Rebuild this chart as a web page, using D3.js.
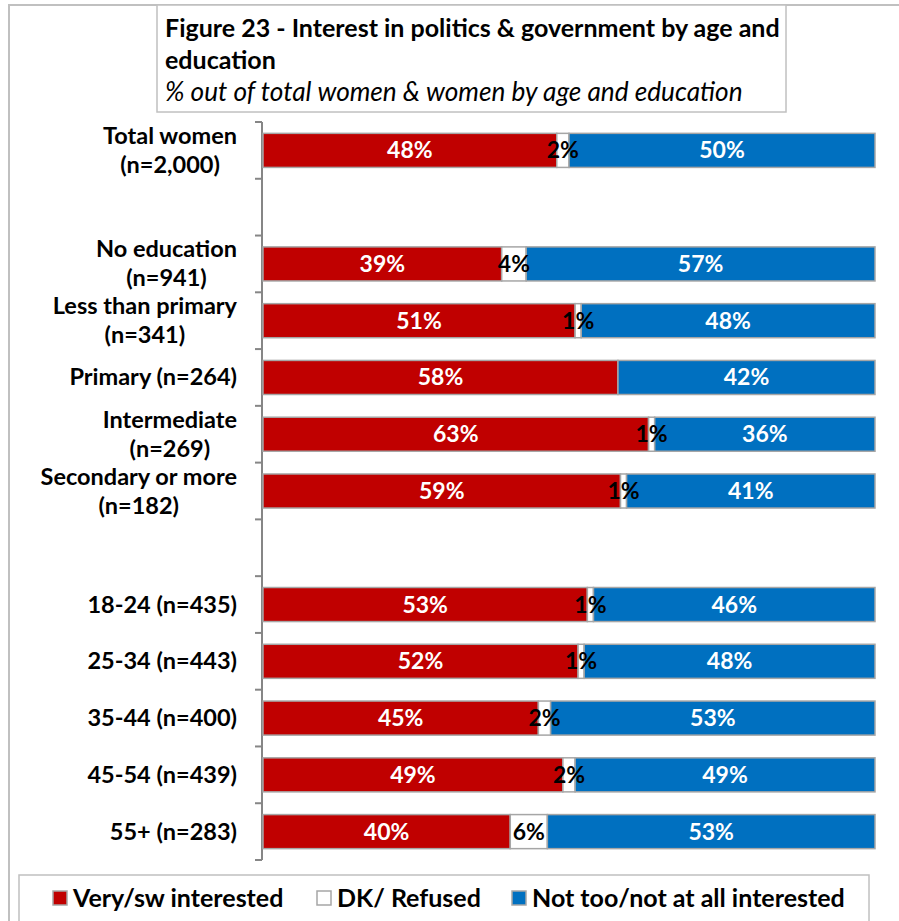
<!DOCTYPE html>
<html>
<head>
<meta charset="utf-8">
<script src="https://cdn.jsdelivr.net/npm/d3@7"></script>
<style>
  html, body { margin: 0; padding: 0; background: #fff; }
  svg { display: block; font-family: Lato, "Open Sans", sans-serif; }
</style>
</head>
<body>
<svg id="chart" width="899" height="921"></svg>
<script>
// ---- data ----
const categories = [
  "Total women\n(n=2,000)",
  "",
  "No education\n(n=941)",
  "Less than primary\n(n=341)",
  "Primary (n=264)",
  "Intermediate\n(n=269)",
  "Secondary or more\n(n=182)",
  " ",
  "18-24 (n=435)",
  "25-34 (n=443)",
  "35-44 (n=400)",
  "45-54 (n=439)",
  "55+ (n=283)"
];
const veryInterested = [48, null, 39, 51, 58, 63, 59, null, 53, 52, 45, 49, 40];
const dkRefused      = [2,  null, 4,  1,  0,  1,  1,  null, 1,  1,  2,  2,  6];
const notInterested  = [50, null, 57, 48, 42, 36, 41, null, 46, 48, 53, 49, 53];
const seriesNames  = ["Very/sw interested", "DK/ Refused", "Not too/not at all interested"];
const seriesColors = ["#C00000", "#FFFFFF", "#0070C0"];
const labelColors  = ["#FFFFFF", "#000000", "#FFFFFF"];
const titleLines = ["Figure 23 - Interest in politics & government by age and", "education"];
const subtitle = "% out of total women & women by age and education";

// ---- layout ----
const svg = d3.select("#chart");
const plot = { left: 263, right: 875, top: 122, bottom: 860 };

// outer frame
svg.append("rect").attr("x", 9).attr("y", 5).attr("width", 920).attr("height", 960)
  .attr("fill", "none").attr("stroke", "#c0c0c0").attr("stroke-width", 2);

// title box
svg.append("rect").attr("x", 157).attr("y", 5).attr("width", 629).attr("height", 107)
  .attr("fill", "#fff").attr("stroke", "#c0c0c0").attr("stroke-width", 1.5);
const tt = svg.append("text").attr("x", 165).attr("font-size", 25).attr("font-weight", "bold").attr("fill", "#000");
titleLines.forEach((t, i) => tt.append("tspan").attr("x", 165).attr("y", 37 + i * 32).text(t));
svg.append("text").attr("x", 165).attr("y", 101).attr("font-size", 26.2).attr("font-style", "italic")
  .attr("fill", "#000").text(subtitle);

// scales (100% stacked: each row normalised to its own total)
const x = d3.scaleLinear().domain([0, 100]).range([plot.left, plot.right]);
const y = d3.scaleBand().domain(categories).range([plot.top, plot.bottom]).paddingInner(0.4).paddingOuter(0.2);

// axis line + ticks at band boundaries
const bounds = d3.range(categories.length + 1).map(i => plot.top + i * (plot.bottom - plot.top) / categories.length);
const ax = svg.append("g");
ax.append("line").attr("x1", plot.left - 1).attr("x2", plot.left - 1)
  .attr("y1", plot.top).attr("y2", plot.bottom).attr("stroke", "#868686").attr("stroke-width", 2);
ax.selectAll("line.tick").data(bounds).join("line").attr("class", "tick")
  .attr("x1", plot.left - 8).attr("x2", plot.left - 1)
  .attr("y1", d => d).attr("y2", d => d).attr("stroke", "#868686").attr("stroke-width", 2);

// stacked data
const rows = categories.map((c, i) => ({ cat: c, vals: [veryInterested[i], dkRefused[i], notInterested[i]] }))
  .filter(r => r.vals[0] !== null);

const bh = y.bandwidth();

rows.forEach(r => {
  const total = d3.sum(r.vals);
  let acc = 0;
  r.vals.forEach((v, k) => {
    const x0 = x(acc / total * 100), x1 = x((acc + v) / total * 100);
    svg.append("rect").attr("x", x0).attr("y", y(r.cat)).attr("width", Math.max(0, x1 - x0)).attr("height", bh)
      .attr("fill", seriesColors[k]).attr("stroke", "#A6A6A6").attr("stroke-width", 1.5);
    acc += v;
  });
});
rows.forEach(r => {
  const total = d3.sum(r.vals);
  let acc = 0;
  r.vals.forEach((v, k) => {
    if (v > 0) {
      svg.append("text").attr("x", x((acc + v / 2) / total * 100)).attr("y", y(r.cat) + bh / 2 + 8)
        .attr("text-anchor", "middle").attr("font-size", 23).attr("font-weight", "bold")
        .attr("fill", labelColors[k]).text(v + "%");
    }
    acc += v;
  });
});

// category labels
const labelRight = 237;
categories.forEach(c => {
  const lines = c.trim() === "" ? [] : c.split("\n");
  if (!lines.length) return;
  const cy = y(c) + bh / 2;
  const g = svg.append("g");
  const texts = lines.map((l, i) => g.append("text").attr("font-size", 23.5).attr("font-weight", "bold")
    .attr("text-anchor", "middle").attr("fill", "#000")
    .attr("y", cy + 8 + (i - (lines.length - 1) / 2) * 29).text(l));
  const w = d3.max(texts, t => t.node().getComputedTextLength());
  texts.forEach(t => t.attr("x", labelRight - w / 2));
});

// legend box
svg.append("rect").attr("x", 19).attr("y", 875).attr("width", 850).attr("height", 80)
  .attr("fill", "#fff").attr("stroke", "#c0c0c0").attr("stroke-width", 1.5);
const legX = [53, 317, 512];
seriesNames.forEach((n, k) => {
  svg.append("rect").attr("x", legX[k]).attr("y", 891).attr("width", 14).attr("height", 14)
    .attr("fill", seriesColors[k]).attr("stroke", "#A6A6A6").attr("stroke-width", 1.5);
  svg.append("text").attr("x", legX[k] + 20).attr("y", 907).attr("font-size", 25).attr("font-weight", "bold")
    .attr("fill", "#000").text(n);
});
</script>
</body>
</html>
